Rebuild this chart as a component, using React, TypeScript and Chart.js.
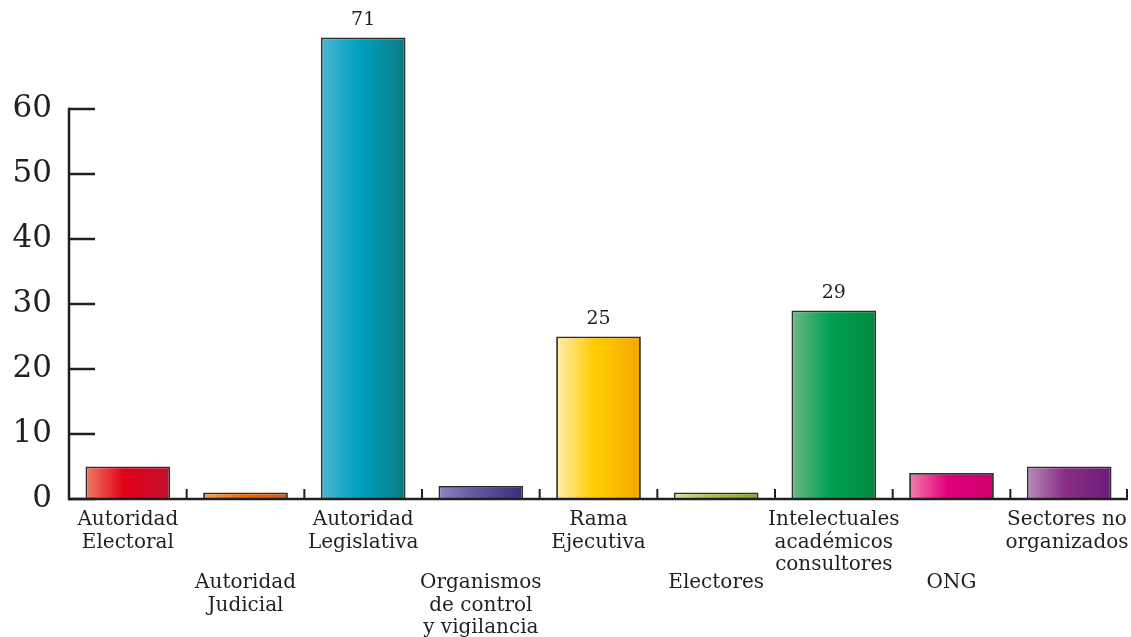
import React, { useEffect, useRef } from "react";
import { Chart, registerables } from "chart.js";

Chart.register(...registerables);

const categories: string[][] = [
  ["Autoridad", "Electoral"],
  ["Autoridad", "Judicial"],
  ["Autoridad", "Legislativa"],
  ["Organismos", "de control", "y vigilancia"],
  ["Rama", "Ejecutiva"],
  ["Electores"],
  ["Intelectuales", "académicos", "consultores"],
  ["ONG"],
  ["Sectores no", "organizados"],
];
const values: number[] = [5, 1, 71, 2, 25, 1, 29, 4, 5];
const labelledBars: number[] = [2, 4, 6];
const yTicks: number[] = [0, 10, 20, 30, 40, 50, 60];
const barLight: string[] = ["#EE7E62", "#F4A05A", "#4DB6CF", "#8C86C0", "#FFEDB0", "#D8E6A0", "#6FB985", "#F07FAE", "#B78DB8"];
const barMid: string[] = ["#E2001A", "#EC6D0C", "#00A0C2", "#5F579F", "#FFCC00", "#A2C243", "#00A052", "#E2007A", "#8A2D86"];
const barDark: string[] = ["#C4112B", "#D35C17", "#0B7A82", "#3A2E7E", "#F4A800", "#7BAA1F", "#008A3E", "#CC006E", "#6A1F78"];

const INK = "#231F20";
const FONT = "'DejaVu Serif', Georgia, serif";

export default function App() {
  const ref = useRef<HTMLCanvasElement | null>(null);

  useEffect(() => {
    if (!ref.current) return;

    const decor = {
      id: "decor",
      afterDatasetsDraw(chart: any) {
        const { ctx, chartArea, scales } = chart;
        const x = scales.x;
        const y = scales.y;
        const y0 = y.getPixelForValue(0);
        ctx.save();
        ctx.strokeStyle = INK;
        ctx.lineWidth = 2.5;
        ctx.lineCap = "butt";
        // y axis line
        ctx.beginPath();
        ctx.moveTo(chartArea.left, y0 + 1.25);
        ctx.lineTo(chartArea.left, y.getPixelForValue(yTicks[yTicks.length - 1]) - 1.25);
        ctx.stroke();
        // y ticks (inside)
        yTicks.forEach((v) => {
          const py = y.getPixelForValue(v);
          ctx.beginPath();
          ctx.moveTo(chartArea.left, py);
          ctx.lineTo(chartArea.left + 26, py);
          ctx.stroke();
        });
        // x axis line
        ctx.beginPath();
        ctx.moveTo(chartArea.left, y0);
        ctx.lineTo(chartArea.right, y0);
        ctx.stroke();
        // x ticks at category boundaries
        ctx.lineWidth = 2;
        for (let i = 1; i <= categories.length; i++) {
          const px =
            i < categories.length
              ? (x.getPixelForValue(i - 1) + x.getPixelForValue(i)) / 2
              : chartArea.right - 1;
          ctx.beginPath();
          ctx.moveTo(px, y0);
          ctx.lineTo(px, y0 - 10);
          ctx.stroke();
        }
        // x labels, staggered
        ctx.fillStyle = INK;
        ctx.textAlign = "center";
        ctx.textBaseline = "middle";
        ctx.font = `20px ${FONT}`;
        categories.forEach((lines, i) => {
          const cx = Math.min(x.getPixelForValue(i), chart.width - 64);
          const startY = i % 2 === 0 ? y0 + 21 : y0 + 84;
          lines.forEach((ln, j) => {
            ctx.fillText(ln, cx, startY + j * 22.5);
          });
        });
        // value labels
        ctx.font = `19px ${FONT}`;
        labelledBars.forEach((i) => {
          const cx = x.getPixelForValue(i);
          const top = y.getPixelForValue(values[i]);
          ctx.fillText(String(values[i]), cx, top - 17);
        });
        ctx.restore();
      },
    };

    const chart = new Chart(ref.current, {
      type: "bar",
      data: {
        labels: categories.map((c) => c.join(" ")),
        datasets: [
          {
            data: values,
            backgroundColor: (c: any) => {
              const ch = c.chart;
              const xs = ch.scales?.x;
              if (!ch.chartArea || !xs) return barMid[c.dataIndex];
              const cx = xs.getPixelForValue(c.dataIndex);
              const w = (xs.width / categories.length) * 0.72;
              const g = ch.ctx.createLinearGradient(cx - w / 2, 0, cx + w / 2, 0);
              g.addColorStop(0, barLight[c.dataIndex]);
              g.addColorStop(0.45, barMid[c.dataIndex]);
              g.addColorStop(1, barDark[c.dataIndex]);
              return g;
            },
            borderColor: "#2E2E2E",
            borderWidth: 1.8,
            categoryPercentage: 1,
            barPercentage: 0.72,
          },
        ],
      },
      options: {
        animation: false,
        responsive: true,
        maintainAspectRatio: false,
        layout: { padding: { top: 11.5, right: 3, bottom: 138, left: 0 } },
        plugins: { legend: { display: false }, tooltip: { enabled: false } },
        scales: {
          x: { display: false },
          y: {
            min: 0,
            max: 75,
            grid: { display: false, drawTicks: false },
            border: { display: false },
            afterFit: (s: any) => {
              s.width = 69;
              s.paddingTop = 0;
              s.paddingBottom = 0;
            },
            afterBuildTicks: (s: any) => {
              s.ticks = yTicks.map((v) => ({ value: v }));
            },
            ticks: {
              padding: 17,
              color: INK,
              font: { family: FONT, size: 31 },
            },
          },
        },
      },
      plugins: [decor],
    });

    return () => chart.destroy();
  }, []);

  return (
    <div style={{ position: "fixed", left: 0, top: 0, width: 1131, height: 637, background: "#fff" }}>
      <canvas ref={ref} />
    </div>
  );
}
